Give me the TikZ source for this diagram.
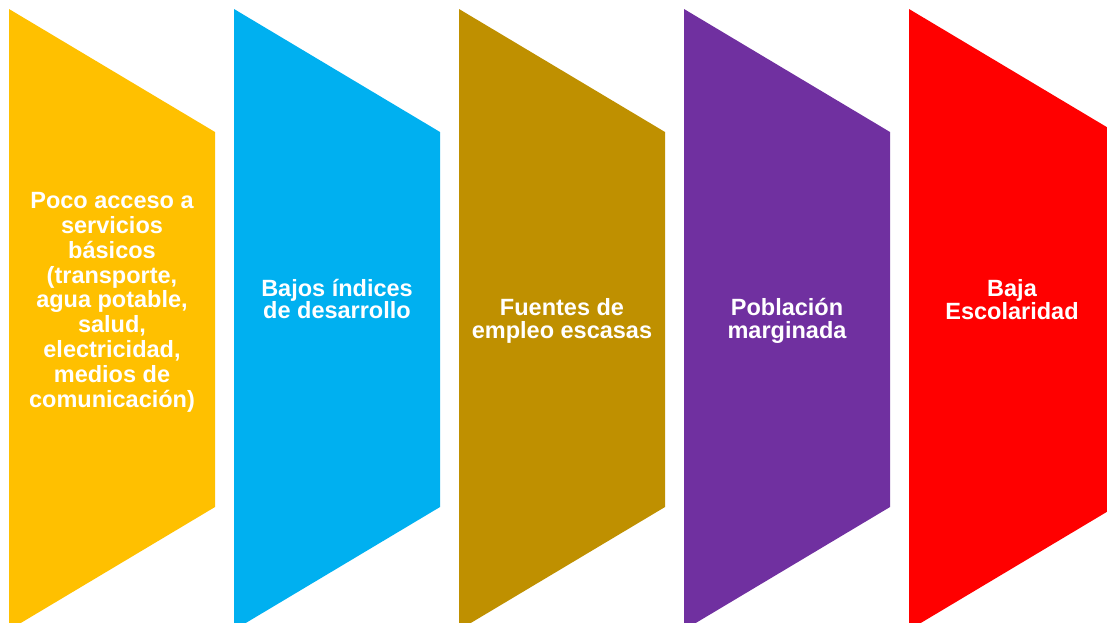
\documentclass[tikz,border=0pt]{standalone}
\usepackage{fontspec}
\setmainfont{Liberation Sans}
\definecolor{cYellow}{HTML}{FFC000}
\definecolor{cBlue}{HTML}{00B0F0}
\definecolor{cGold}{HTML}{BF9000}
\definecolor{cPurple}{HTML}{7030A0}
\definecolor{cRed}{HTML}{FF0000}
\lineskiplimit=-50pt
\tikzset{
  lbl/.style={text=white, align=center, inner sep=0pt, anchor=base,
    font={\bfseries\fontsize{23.5pt}{#1pt}\selectfont}},
}
\newcommand{\chevshape}[2]{%
  \fill[#2] (#1,9) -- ++(206,123) -- ++(0,375) -- ++(-206,123) -- cycle;}
\begin{document}
\begin{tikzpicture}[x=1pt,y=-1pt]
\useasboundingbox (0,0) rectangle (1107,622);
\clip (0,0) rectangle (1107,622);
\chevshape{9}{cYellow}
\chevshape{234}{cBlue}
\chevshape{459}{cGold}
\chevshape{684}{cPurple}
\chevshape{909}{cRed}
\node[lbl=24.8] (t1) at (112,407) {Poco acceso a\\servicios\\básicos\\(transporte,\\agua potable,\\salud,\\electricidad,\\medios de\\comunicación)};
\node[lbl=21.7] (t2) at (337,318) {Bajos índices\\de desarrollo};
\node[lbl=23.3] (t3) at (562,338.3) {Fuentes de\\empleo escasas};
\node[lbl=23.3] (t4) at (787,338.3) {Población\\marginada};
\node[lbl=22.6] (t5) at (1012,319.3) {Baja\\Escolaridad};
\end{tikzpicture}
\end{document}
